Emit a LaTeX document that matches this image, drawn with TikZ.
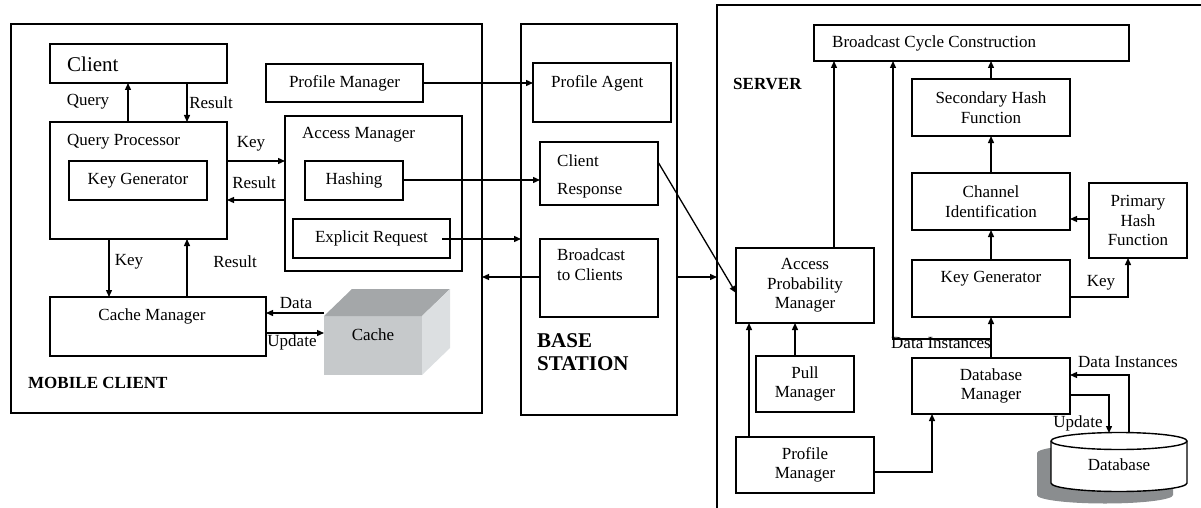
\documentclass[tikz,border=0pt]{standalone}
\usepackage{fontspec}
\setmainfont{Liberation Serif}
\usetikzlibrary{arrows.meta}
\newcommand\fs{\fontsize{17}{19.5}\selectfont}
\definecolor{cfront}{HTML}{C6C9CB}
\definecolor{ctop}{HTML}{A4A7A9}
\definecolor{cside}{HTML}{DCDFE1}
\definecolor{shgray}{HTML}{8A8D8F}
\tikzset{
 box/.style={draw, line width=1.4pt, outer sep=0pt, inner sep=0pt, align=center, font=\fs},
 arr/.style={line width=1.3pt, -{Triangle[length=7pt,width=6pt]}},
 ln/.style={line width=1.4pt},
 lbl/.style={inner sep=0pt, font=\fs, align=left},
 blbl/.style={inner sep=0pt, font=\fs\bfseries, align=left},
}
\newcommand\mybox[7][]{%
 \pgfmathsetmacro\bxc{(#3+#5)/2}\pgfmathsetmacro\byc{(#4+#6)/2}%
 \pgfmathsetmacro\bw{#5-#3}\pgfmathsetmacro\bh{#6-#4}%
 \node[box,minimum width=\bw pt,minimum height=\bh pt,#1] (#2) at (\bxc,\byc) {#7};}
\begin{document}
\begin{tikzpicture}[x=1pt,y=-1pt]
\useasboundingbox (0,0) rectangle (1201,508);
% ---------------- MOBILE CLIENT ----------------
\mybox{MC}{11}{24}{482}{413}{}
\mybox{Client}{50}{44}{227}{83}{}
\node[lbl,anchor=west,font=\fontsize{21}{24}\selectfont] at (67,64) {Client};
\mybox{QP}{50}{122}{227}{239}{}
\node[lbl,anchor=west] at (67,142) {Query Processor};
\mybox{KG}{69}{161}{207}{200}{Key Generator}
\mybox{PMc}{266}{64}{423}{102}{Profile Manager}
\mybox{AM}{285}{116}{462}{271}{}
\node[lbl,anchor=west] at (302,135) {Access Manager};
\mybox{Hash}{305}{161}{403}{200}{Hashing}
\mybox{ER}{293}{219}{450}{258}{Explicit Request}
\mybox{CM}{50}{297}{266}{356}{}
\node[lbl] at (152,316) {Cache Manager};
% cache cube
\node[fill=cfront,minimum width=98pt,minimum height=59pt,inner sep=0pt,outer sep=0pt,font=\fs] (cache) at (373,345.5) {};
\fill[ctop] (cache.north west) -- (352,289) -- (450,289) -- (cache.north east) -- cycle;
\fill[cside] (cache.north east) -- (450,289) -- (450,348) -- (cache.south east) -- cycle;
\node[lbl] at (373,335) {Cache};
\node[blbl,anchor=west] at (28,383) {MOBILE CLIENT};
% ---------------- BASE STATION ----------------
\mybox{BS}{521}{24}{677}{415}{}
\mybox{PA}{533}{63}{671}{122}{}
\node[lbl,anchor=west] at (551,83) {Profile Agent};
\mybox{CR}{540}{142}{658}{205}{}
\node[lbl,anchor=west] at (557,161) {Client};
\node[lbl,anchor=west] at (557,191) {Response};
\mybox{BC}{540}{239}{658}{317}{}
\node[lbl,anchor=north west] at (557,249) {Broadcast\\to Clients};
\node[blbl,anchor=north west,font=\fontsize{21}{23}\selectfont\bfseries] at (537,333) {BASE\\STATION};
% ---------------- SERVER ----------------
\coordinate (srvL) at (717,5);
\draw[ln] (1203,5) -- (srvL) -- (717,510);
\node[blbl,anchor=west] at (733,84) {SERVER};
\mybox{BCC}{814}{25}{1129}{61}{}
\node[lbl,anchor=west] at (832,43) {Broadcast Cycle Construction};
\mybox{SH}{912}{79}{1070}{136}{Secondary Hash\\Function}
\mybox{CI}{912}{173}{1070}{230}{Channel\\Identification}
\mybox{PH}{1089}{183}{1187}{258}{Primary\\Hash\\Function}
\mybox{KGs}{912}{260}{1070}{317}{}
\node[lbl] at (991,279) {Key Generator};
\mybox{APM}{736}{248}{874}{323}{Access\\Probability\\Manager}
\mybox{Pull}{756}{356}{854}{412}{Pull\\Manager}
\mybox{PMs}{736}{437}{874}{493}{Profile\\Manager}
\mybox{DBM}{912}{358}{1070}{414}{Database\\Manager}
% database cylinder
\fill[shgray] (1037,453) -- (1037,495) arc[start angle=180,end angle=0,x radius=68,y radius=8.5] -- (1173,453) arc[start angle=0,end angle=-180,x radius=68,y radius=8.5] -- cycle;
\filldraw[ln,fill=white] (1051,441) -- (1051,483) arc[start angle=180,end angle=0,x radius=68,y radius=8.5] -- (1187,441) arc[start angle=0,end angle=-180,x radius=68,y radius=8.5] -- cycle;
\draw[ln] (1187,441) arc[start angle=0,end angle=180,x radius=68,y radius=8.5];
\node[lbl] (DB) at (1119,465) {Database};
\coordinate (DBtop) at (1119,433);
% ---------------- connectors: mobile client ----------------
\draw[arr] (128,0 |- QP.north) -- (128,0 |- Client.south);
\draw[arr] (187,0 |- Client.south) -- (187,0 |- QP.north);
\draw[arr] (QP.east |- 0,161) -- (AM.west |- 0,161);
\draw[arr] (AM.west |- 0,200) -- (QP.east |- 0,200);
\draw[arr] (109,0 |- QP.south) -- (109,0 |- CM.north);
\draw[arr] (187,0 |- CM.north) -- (187,0 |- QP.south);
\draw[arr] (cache.west |- 0,313) -- (CM.east |- 0,313);
\draw[arr] (CM.east |- 0,333) -- (cache.west |- 0,333);
\node[lbl] at (88,102) {Query};
\node[lbl] at (211,103) {Result};
\node[lbl] at (251,144) {Key};
\node[lbl] at (254,183) {Result};
\node[lbl] at (129,262) {Key};
\node[lbl] at (235,262) {Result};
\node[lbl] at (296,303) {Data};
\node[lbl] at (292,342) {Update};
% ---------------- connectors: mobile <-> base station ----------------
\draw[arr] (PMc.east |- 0,83) -- (PA.west |- 0,83);
\draw[arr] (Hash.east |- 0,180) -- (CR.west |- 0,180);
\draw[arr] ([xshift=-8pt]ER.east |- 0,239) -- (BS.west |- 0,239);
\draw[arr] (BC.west |- 0,277) -- (MC.east |- 0,277);
\draw[arr] (BS.east |- 0,277) -- (srvL |- 0,277);
\draw[arr] (CR.east |- 0,162) -- (APM.west |- 0,293);
% ---------------- connectors: server ----------------
\draw[arr] (834,0 |- APM.north) -- (834,0 |- BCC.south);
\draw[arr] (DBM.north) -- (KGs.south);
\coordinate (br) at (DBM.north |- 0,339);
\draw[arr] (br) -- (893,339) -- (893,0 |- BCC.south);
\draw[arr] (SH.north) -- (SH.north |- BCC.south);
\draw[arr] (CI.north) -- (SH.south);
\draw[arr] (KGs.north) -- (CI.south);
\draw[arr] (PH.west |- 0,219) -- (CI.east |- 0,219);
\draw[arr] (KGs.east |- 0,297) -- (1128,297) -- (1128,0 |- PH.south);
\draw[arr] (795,0 |- Pull.north) -- (795,0 |- APM.south);
\draw[arr] (749,0 |- PMs.north) -- (749,0 |- APM.south);
\draw[arr] (PMs.east |- 0,472) -- (932,472) -- (932,0 |- DBM.south);
\draw[arr] (1129,0 |- DBtop) -- (1129,375) -- (DBM.east |- 0,375);
\draw[arr] (DBM.east |- 0,395) -- (1109,395) -- (1109,0 |- DBtop);
\node[lbl] at (1101,283) {Key};
\node[lbl] at (941,343) {Data Instances};
\node[lbl] at (1128,362) {Data Instances};
\node[lbl] at (1078,423) {Update};
\end{tikzpicture}
\end{document}
